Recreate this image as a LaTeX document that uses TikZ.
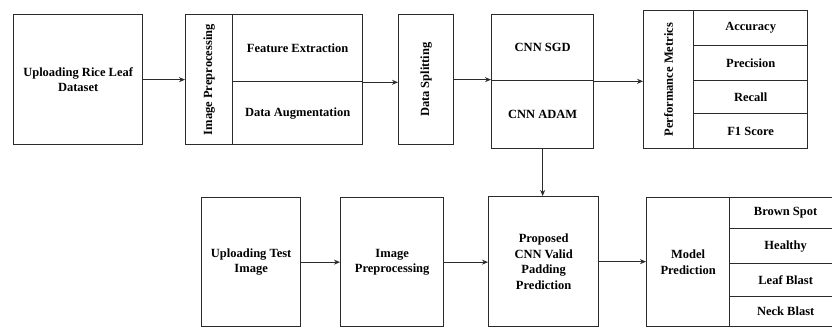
\documentclass[tikz,border=0pt]{standalone}
\usepackage{fontspec}
\setmainfont{Liberation Serif}
\usepackage{tikz}
\usetikzlibrary{positioning, arrows.meta, calc}
\definecolor{linecol}{HTML}{2B2B2B}
\tikzset{
  % plain cell of a block, placed by its top left corner
  cell/.style n args={2}{draw=linecol, line width=1.3pt, anchor=north west,
                 minimum width=#1pt, minimum height=#2pt, inner sep=1pt,
                 align=center, font=\fontsize{12.5}{15.5}\selectfont\bfseries},
  % connector
  flow/.style={-{Stealth[length=6pt,width=5pt]}, draw=linecol, line width=1.1pt},
}

\begin{document}
\begin{tikzpicture}[x=1pt,y=-1pt]
  \useasboundingbox (0,0) rectangle (832,327);
  % training branch
  \node[cell={129}{130}] (upload) at (13,14) {Uploading Rice Leaf\\Dataset};
  \node[cell={47}{130}] (preTitle) at (185,14) {\rotatebox{90}{Image Preprocessing}};
  \node[cell={130}{67}] (feat) at (232,14) {Feature Extraction};
  \node[cell={130}{63}] (aug) at (232,81) {Data Augmentation};
  \node[cell={55}{130}] (split) at (398,14) {\rotatebox{90}{Data Splitting}};
  \node[cell={102}{66}] (sgd) at (491,14) {CNN SGD};
  \node[cell={102}{68}] (adam) at (491,80) {CNN ADAM};
  \node[cell={50}{138}] (pmTitle) at (643,10) {\rotatebox{90}{Performance Metrics}};
  \node[cell={114}{35}] (acc) at (693,10) {Accuracy};
  \node[cell={114}{35}] (prec) at (693,45) {Precision};
  \node[cell={114}{33}] (rec) at (693,80) {Recall};
  \node[cell={114}{35}] (fone) at (693,113) {F1 Score};
  % testing branch
  \node[cell={99}{129}] (test) at (201,197) {Uploading Test\\Image};
  \node[cell={103}{129}] (imgPre) at (340,197) {Image\\Preprocessing};
  \node[cell={110}{130}] (proposed) at (488,196) {Proposed\\CNN Valid\\Padding\\Prediction};
  \node[cell={83}{129}] (model) at (646,197) {Model\\Prediction};
  \node[cell={112}{31}] (brown) at (729,197) {Brown Spot};
  \node[cell={112}{35}] (healthy) at (729,228) {Healthy};
  \node[cell={112}{33}] (leafB) at (729,263) {Leaf Blast};
  \node[cell={112}{30}] (neckB) at (729,296) {Neck Blast};

  \draw[flow] (upload.east) -- (preTitle.west);
  \draw[flow] (feat.south east) -- (feat.south east -| split.west);
  \draw[flow] (split.east) -- (split.east -| sgd.west);
  \draw[flow] (sgd.south east) -- (sgd.south east -| pmTitle.west);
  \draw[flow] (adam.south) -- (adam.south |- proposed.north);
  \draw[flow] (test.east) -- (imgPre.west);
  \draw[flow] (imgPre.east) -- (imgPre.east -| proposed.west);
  \draw[flow] (proposed.east) -- (proposed.east -| model.west);
\end{tikzpicture}
\end{document}
